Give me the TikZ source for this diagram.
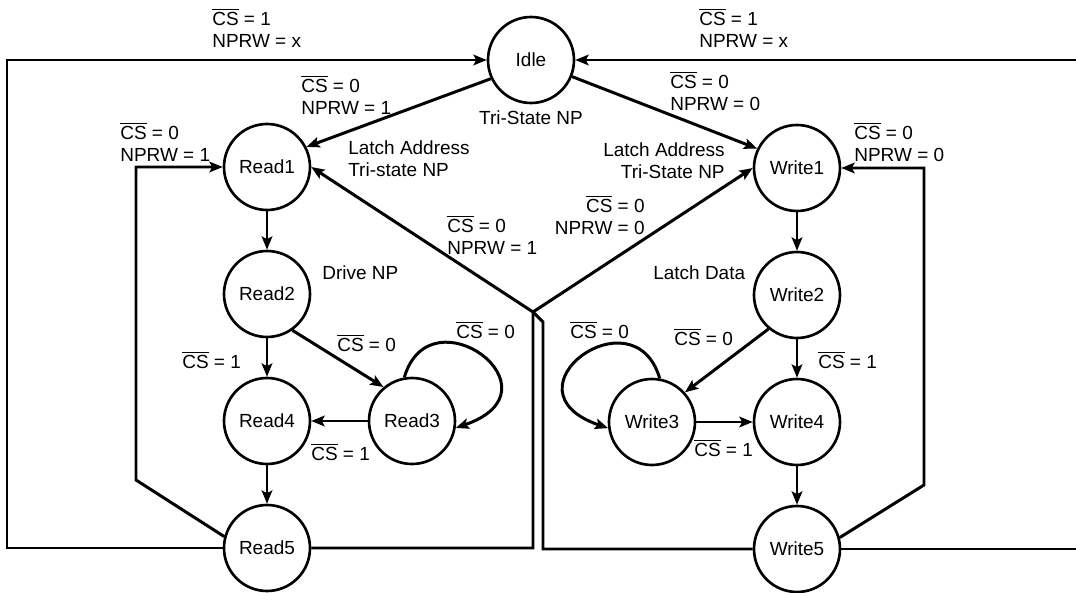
\documentclass[tikz,border=0pt]{standalone}
\usepackage{fontspec}
\setmainfont{Liberation Sans}
\usepackage{tikz}
\usetikzlibrary{arrows.meta, positioning}

\newcommand{\csbar}{\ensuremath{\overline{\mbox{CS}}}}

\begin{document}
\begin{tikzpicture}[
    node distance = 2.54cm and 2.9cm, on grid,
    every node/.style = {font=\fontsize{10.8}{12.8}\selectfont},
    state/.style = {
        circle, draw, line width=1.5pt,
        minimum size=1.72cm, inner sep=0pt
    },
    cond/.style = {inner sep=0pt, align=left},
    note/.style = {inner sep=0pt, align=left},
    arr/.style = {-{Stealth[length=7.5pt, width=6pt, inset=1.5pt]}, line width=1.7pt},
]

\useasboundingbox (0,0) rectangle (21.52,-11.86);

% Idle
\node[state] (idle) at (10.62,-1.20) {Idle};

% Read side
\node[state] (read1) at (5.34,-3.34) {Read1};
\node[state, below=of read1] (read2) {Read2};
\node[state, below=of read2] (read4) {Read4};
\node[state, right=of read4] (read3) {Read3};
\node[state, below=of read4] (read5) {Read5};

% Write side
\node[state] (write1) at (15.94,-3.36) {Write1};
\node[state, below=of write1] (write2) {Write2};
\node[state, below=of write2] (write4) {Write4};
\node[state, left=of write4]  (write3) {Write3};
\node[state, below=of write4] (write5) {Write5};

% Bends
\coordinate (lft)    at (0.14,-1.20);
\coordinate (rgt)    at (21.75,-1.20);
\coordinate (rback)  at (2.72,-9.60);
\coordinate (wback)  at (18.48,-9.70);
\coordinate (rcross) at (10.66,-6.24);
\coordinate (wcross) at (10.86,-6.44);

% Arrows
\draw[arr] (read5.west) -| (lft) -- (idle.west);
\draw[arr] (write5.east) -| (rgt) -- (idle.east);
\draw[arr] (idle.205)  -- (read1.27);
\draw[arr] (idle.-22)  -- (write1.154);
\draw[arr] (read5.east) -| (rcross) -- (write1.west);
\draw[arr] (write5.west) -| (wcross) -- (rcross) -- (read1.east);
\draw[arr] (read5.165) -- (rback) |- (read1.west);
\draw[arr] (write5.15) -- (wback) |- (write1.east);

\draw[arr] (read1) -- (read2);
\draw[arr] (read2) -- (read4);
\draw[arr] (read4) -- (read5);
\draw[arr] (read2.-55) -- (read3.130);
\draw[arr] (read3) -- (read4);
\draw[arr] (read3.100) .. controls +(0.52,1.76) and +(2.2,0.76) .. (read3.-9);

\draw[arr] (write1) -- (write2);
\draw[arr] (write2) -- (write4);
\draw[arr] (write4) -- (write5);
\draw[arr] (write2.230) -- (write3.42);
\draw[arr] (write3) -- (write4);
\draw[arr] (write3.80) .. controls +(-0.52,1.76) and +(-2.2,0.76) .. (write3.188);

% Conditions
\node[cond, anchor=north west] (c-top-l) at (4.24,-0.16)  {\csbar{} = 1\\NPRW = x};
\node[cond, anchor=north west] (c-top-r) at (13.98,-0.16) {\csbar{} = 1\\NPRW = x};
\node[cond, anchor=north west] (c-idle-r) at (6.02,-1.50) {\csbar{} = 0\\NPRW = 1};
\node[cond, anchor=north west] (c-r1)     at (2.40,-2.44) {\csbar{} = 0\\NPRW = 1};
\node[cond, anchor=north west] (c-idle-w) at (13.40,-1.42) {\csbar{} = 0\\NPRW = 0};
\node[cond, anchor=north west] (c-w1)     at (17.08,-2.44) {\csbar{} = 0\\NPRW = 0};
\node[cond, anchor=north west] (c-x-r)    at (8.94,-4.30) {\csbar{} = 0\\NPRW = 1};
\node[cond, anchor=north east, align=right] (c-x-w) at (12.90,-3.90) {\csbar{} = 0\\NPRW = 0};

\node[cond, anchor=west] (c-r24) at (3.64,-7.20)  {\csbar{} = 1};
\node[cond, anchor=west] (c-r23) at (6.74,-6.86)  {\csbar{} = 0};
\node[cond, anchor=west] (c-r33) at (9.12,-6.60)  {\csbar{} = 0};
\node[cond, anchor=west] (c-r34) at (6.22,-9.04)  {\csbar{} = 1};
\node[cond, anchor=west] (c-w33) at (11.40,-6.60) {\csbar{} = 0};
\node[cond, anchor=west] (c-w23) at (13.48,-6.74) {\csbar{} = 0};
\node[cond, anchor=west] (c-w24) at (16.36,-7.20) {\csbar{} = 1};
\node[cond, anchor=west] (c-w34) at (13.88,-8.96) {\csbar{} = 1};

% Actions
\node[note, anchor=north west] (a-r1) at (6.96,-2.80) {Latch Address\\Tri-state NP};
\node[note, anchor=north east, align=right] (a-w1) at (14.50,-2.84) {Latch Address\\Tri-State NP};
\node[note] (a-idle) at (10.62,-2.36) {Tri-State NP};
\node[note, anchor=west] (a-r2) at (6.44,-5.46)  {Drive NP};
\node[note, anchor=west] (a-w2) at (13.06,-5.46) {Latch Data};

\end{tikzpicture}
\end{document}
